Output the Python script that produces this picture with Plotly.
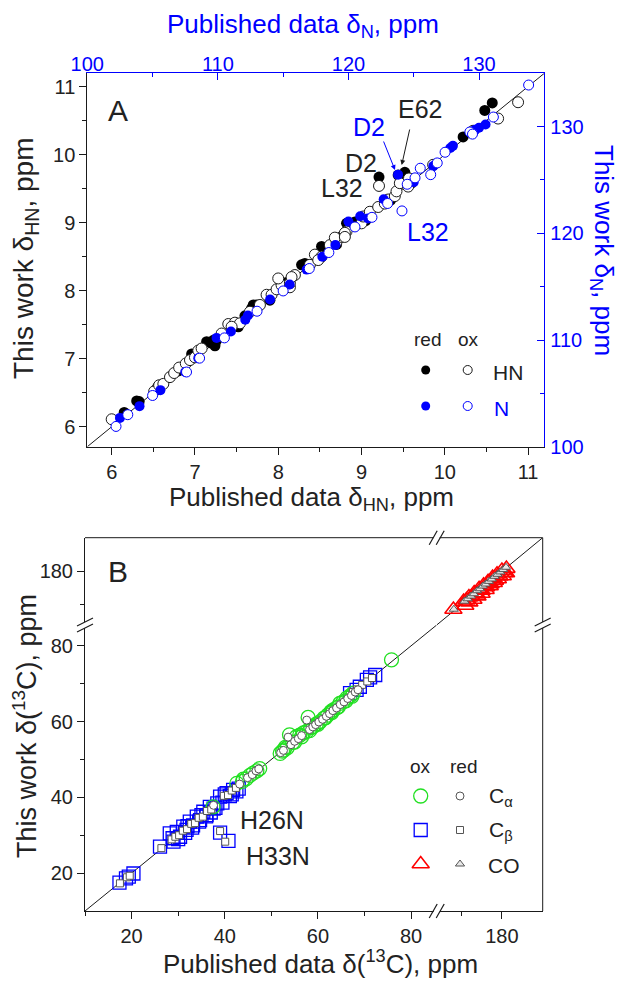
import plotly.graph_objects as go

# ---------------- data: panel A (HN and N shifts) ----------------
HN_RED_PUB = [6.15, 6.30, 6.33, 6.55, 6.80, 6.96, 7.14, 7.20, 7.24, 7.22, 7.26, 7.52, 7.60, 7.68, 7.70,
              7.74, 7.90, 8.10, 8.28, 8.32, 8.52, 8.56, 8.70, 8.82, 8.92, 9.05, 9.21, 9.35, 9.44, 9.52,
              9.60, 10.22, 10.48, 10.57]
HN_RED_THIS = [6.21, 6.38, 6.37, 6.58, 6.82, 7.07, 7.25, 7.23, 7.19, 7.27, 7.27, 7.47, 7.63, 7.74, 7.79,
               7.79, 7.86, 8.12, 8.38, 8.40, 8.65, 8.62, 8.68, 8.99, 9.01, 9.03, 9.67, 9.33, 9.70, 9.74,
               9.58, 10.26, 10.65, 10.76]
HN_OX_PUB = [6.00, 6.51, 6.57, 6.62, 6.70, 6.75, 6.81, 6.89, 6.94, 7.00, 7.04, 7.08, 7.32, 7.40, 7.48,
             7.54, 7.44, 7.66, 7.78, 7.86, 7.92, 7.98, 8.04, 8.14, 8.00, 8.14, 8.20, 8.16, 8.38, 8.44,
             8.52, 8.48, 8.62, 8.70, 8.76, 8.82, 8.68, 8.80, 8.80, 9.00, 9.02, 9.10, 9.20, 9.28, 9.32,
             9.40, 9.42, 9.46, 9.56, 9.57, 9.21, 9.86, 10.34, 10.64, 10.88]
HN_OX_THIS = [6.11, 6.52, 6.61, 6.63, 6.73, 6.79, 6.87, 6.93, 6.98, 7.02, 7.12, 7.15, 7.37, 7.51, 7.53,
              7.52, 7.47, 7.69, 7.79, 7.94, 7.94, 8.02, 8.08, 8.05, 8.18, 8.11, 8.23, 8.20, 8.38, 8.53,
              8.50, 8.45, 8.67, 8.72, 8.79, 8.87, 8.78, 8.85, 8.79, 8.99, 9.09, 9.16, 9.23, 9.28, 9.34,
              9.39, 9.46, 9.58, 9.53, 9.65, 9.54, 9.85, 10.35, 10.53, 10.77]
N_RED_PUB = [102.5, 104.0, 105.6, 107.5, 108.5, 109.9, 111.0, 112.1, 112.3, 114.0, 115.5, 116.8, 118.0,
             119.0, 120.0, 120.9, 121.5, 122.7, 123.8, 125.0, 126.5, 127.8, 128.0, 129.7, 130.0, 130.5]
N_RED_THIS = [102.7, 103.8, 105.3, 107.0, 108.3, 110.2, 110.8, 111.9, 112.3, 113.8, 115.2, 116.6, 117.8,
              118.9, 121.1, 121.6, 121.4, 123.2, 125.5, 124.8, 126.3, 128.0, 128.2, 129.7, 129.9, 130.2]
N_OX_PUB = [102.2, 103.1, 105.0, 107.6, 108.6, 110.5, 113.0, 115.0, 117.0, 118.5, 120.5, 121.8, 123.0,
            124.1, 124.5, 125.1, 125.5, 126.3, 126.8, 127.4, 129.3, 129.5, 131.1, 133.8]
N_OX_THIS = [101.9, 103.0, 104.8, 107.0, 108.3, 110.2, 112.7, 114.6, 116.7, 118.2, 120.6, 121.5, 122.8,
             122.1, 124.6, 125.2, 126.1, 125.5, 126.6, 127.6, 129.5, 129.3, 130.9, 133.9]

# ---------------- data: panel B (13C shifts) ----------------
CA_OX_PUB = [37.5, 42.6, 43.8, 44.0, 44.6, 45.4, 46.1, 46.9, 47.5, 51.9, 52.4, 52.7, 53.0, 53.4, 53.9,
             54.6, 55.0, 55.4, 56.1, 56.5, 56.9, 57.6, 57.9, 58.2, 58.5, 59.0, 59.7, 60.0, 60.5, 61.3,
             61.6, 62.1, 62.8, 63.0, 63.3, 64.1, 64.4, 64.7, 65.4, 66.0, 66.2, 66.9, 67.3, 67.6, 75.8]
CA_OX_THIS = [37.5, 43.7, 44.2, 44.8, 44.9, 45.8, 46.4, 47.0, 47.6, 51.6, 52.2, 52.5, 53.2, 53.1, 56.5,
              54.5, 54.6, 56.0, 56.4, 56.0, 57.0, 57.4, 61.1, 57.6, 58.4, 58.7, 59.4, 59.3, 60.0, 60.9,
              61.0, 61.7, 62.6, 62.4, 63.1, 63.7, 63.9, 64.8, 65.2, 65.5, 66.2, 66.8, 66.7, 67.5, 76.3]
CA_RED_PUB = [37.6, 43.2, 44.9, 45.9, 46.7, 47.3, 52.0, 52.6, 53.6, 54.2, 55.0, 55.8, 56.5, 57.6, 58.2,
              58.9, 59.5, 60.2, 61.0, 61.8, 62.5, 63.2, 64.0, 64.8, 65.6, 66.4, 67.2, 68.0, 68.6]
CA_RED_THIS = [37.9, 43.5, 45.2, 46.0, 47.0, 47.5, 51.8, 52.4, 55.9, 53.9, 54.8, 55.5, 56.3, 60.4, 57.9,
               58.6, 59.2, 59.9, 60.6, 61.4, 62.1, 62.9, 63.6, 64.5, 65.2, 66.1, 66.9, 67.8, 68.4]
CB_OX_PUB = [17.4, 18.8, 19.4, 20.4, 26.1, 28.2, 28.8, 29.0, 29.7, 30.0, 30.4, 31.1, 31.5, 31.8, 32.0,
             32.5, 33.0, 33.2, 34.0, 34.5, 34.7, 35.0, 35.4, 36.0, 36.1, 36.8, 37.0, 37.6, 38.0, 38.4,
             39.0, 39.0, 39.5, 40.0, 40.4, 40.8, 41.1, 41.5, 41.8, 42.5, 43.0, 66.9, 68.3, 69.0, 70.5,
             71.2, 72.3]
CB_OX_THIS = [17.5, 18.6, 19.1, 19.9, 27.0, 30.5, 29.2, 28.3, 30.9, 29.0, 29.6, 32.3, 30.6, 31.4, 32.4,
              33.6, 32.0, 32.6, 34.9, 33.6, 34.0, 35.3, 36.2, 35.0, 35.3, 37.5, 36.0, 37.0, 37.2, 38.4,
              30.7, 40.2, 38.6, 40.8, 41.1, 28.5, 40.3, 40.8, 42.0, 41.6, 42.3, 67.5, 68.4, 69.2, 71.0,
              71.7, 72.3]
CB_RED_PUB = [17.5, 19.0, 19.6, 26.4, 28.6, 29.4, 30.2, 31.0, 31.9, 32.8, 33.6, 34.4, 35.3, 36.2, 37.1,
              39.0, 40.1, 39.8, 40.7, 41.5, 42.4, 67.5, 68.4, 69.5, 70.6, 71.6]
CB_RED_THIS = [17.3, 18.9, 19.3, 26.6, 28.9, 29.6, 30.0, 31.2, 31.6, 33.0, 33.2, 34.6, 34.9, 36.4, 36.8,
               31.1, 28.3, 40.4, 40.6, 41.8, 42.5, 67.8, 68.5, 69.7, 70.6, 71.5]
CO_OX_PUB = [168.1, 170.6, 171.0, 171.3, 171.9, 172.0, 172.6, 173.0, 173.2, 173.8, 174.0, 174.4, 175.0,
             175.0, 175.5, 176.0, 176.1, 176.6, 177.0, 177.2, 177.7, 178.0, 178.3, 178.8, 179.0, 179.4,
             180.0, 180.2, 180.6, 181.0, 181.1]
CO_OX_THIS = [168.6, 171.0, 169.8, 171.4, 172.3, 170.8, 172.4, 171.6, 173.5, 173.2, 172.6, 174.8, 174.3,
              173.4, 175.8, 174.5, 175.3, 176.9, 175.6, 176.2, 178.1, 176.6, 177.3, 179.1, 177.7, 178.5,
              180.2, 178.6, 179.6, 179.5, 180.8]
CO_RED_PUB = [168.2, 170.8, 171.6, 172.4, 173.1, 173.9, 174.6, 175.3, 176.0, 176.8, 177.5, 178.2, 178.9,
              179.6, 180.3, 181.0]
CO_RED_THIS = [168.7, 171.1, 171.8, 172.6, 173.3, 174.2, 174.8, 175.6, 176.2, 177.0, 177.7, 178.5, 179.1,
               179.8, 180.5, 181.2]

# axis ranges / ticks
HN_RANGE = [5.707, 11.195]
N_RANGE = [100, 135]
C_LOW = [10, 85.5]
C_HIGH = [164, 190]

# ---------------- geometry (pixels) ----------------
W, H = 619, 983
A_L, A_R, A_T, A_B = 87.3, 544.3, 73.3, 446.7
B_L, B_BX, B_R = 85.0, 436.7, 542.7
B_T, B_BY, B_B = 537.7, 625.0, 911.0

BLACK = '#1a1a1a'
BLUE = '#0000ff'
GREEN = '#22e022'
RED = '#ff0000'
GRAY = '#555555'
FONT = 'Arial, Liberation Sans, sans-serif'


def dx(p):
    return p / W


def dy(p):
    return 1 - p / H


fig = go.Figure()

# ---- panel A ----
fig.add_trace(go.Scatter(x=HN_RANGE, y=HN_RANGE, mode='lines', line=dict(color=BLACK, width=1),
                         xaxis='x', yaxis='y', hoverinfo='skip'))
fig.add_trace(go.Scatter(x=N_RED_PUB, y=N_RED_THIS, mode='markers', xaxis='x2', yaxis='y2',
                         marker=dict(size=10, color=BLUE, line=dict(width=0))))
fig.add_trace(go.Scatter(x=N_OX_PUB, y=N_OX_THIS, mode='markers', xaxis='x2', yaxis='y2',
                         marker=dict(size=10, color='white', line=dict(width=1, color=BLUE))))
fig.add_trace(go.Scatter(x=HN_RED_PUB, y=HN_RED_THIS, mode='markers', xaxis='x', yaxis='y',
                         marker=dict(size=11, color='black', line=dict(width=0))))
fig.add_trace(go.Scatter(x=HN_OX_PUB, y=HN_OX_THIS, mode='markers', xaxis='x', yaxis='y',
                         marker=dict(size=11, color='white', line=dict(width=1, color=BLACK))))

# ---- panel B ----
fig.add_trace(go.Scatter(x=C_LOW, y=C_LOW, mode='lines', line=dict(color=BLACK, width=1),
                         xaxis='x3', yaxis='y3', hoverinfo='skip'))
fig.add_trace(go.Scatter(x=C_HIGH, y=C_HIGH, mode='lines', line=dict(color=BLACK, width=1),
                         xaxis='x4', yaxis='y4', hoverinfo='skip'))
fig.add_trace(go.Scatter(x=CB_OX_PUB, y=CB_OX_THIS, mode='markers', xaxis='x3', yaxis='y3',
                         marker=dict(symbol='square-open', size=13, color=BLUE, line=dict(width=1.3))))
fig.add_trace(go.Scatter(x=CA_OX_PUB, y=CA_OX_THIS, mode='markers', xaxis='x3', yaxis='y3',
                         marker=dict(symbol='circle-open', size=14, color=GREEN, line=dict(width=1.3))))
fig.add_trace(go.Scatter(x=CO_OX_PUB, y=CO_OX_THIS, mode='markers', xaxis='x4', yaxis='y4',
                         marker=dict(symbol='triangle-up-open', size=15, color=RED, line=dict(width=1.6))))
fig.add_trace(go.Scatter(x=CB_RED_PUB, y=CB_RED_THIS, mode='markers', xaxis='x3', yaxis='y3',
                         marker=dict(symbol='square', size=7, color='white', line=dict(width=1, color=GRAY))))
fig.add_trace(go.Scatter(x=CA_RED_PUB, y=CA_RED_THIS, mode='markers', xaxis='x3', yaxis='y3',
                         marker=dict(symbol='circle', size=8, color='white', line=dict(width=1, color=GRAY))))
fig.add_trace(go.Scatter(x=CO_RED_PUB, y=CO_RED_THIS, mode='markers', xaxis='x4', yaxis='y4',
                         marker=dict(symbol='triangle-up', size=8, color='#e8e8e8', line=dict(width=1, color=GRAY))))

# ---- hand-made legends (pixel overlay axes x5/y5) ----
leg = [
    (425.7, 370, dict(size=9, color='black')),
    (467.7, 370, dict(size=9, color='white', line=dict(width=1, color=BLACK))),
    (425.7, 406, dict(size=9, color=BLUE)),
    (467.7, 406, dict(size=9, color='white', line=dict(width=1, color=BLUE))),
    (420.7, 796, dict(symbol='circle-open', size=14, color=GREEN, line=dict(width=1.3))),
    (460.0, 796, dict(size=8, color='white', line=dict(width=1, color=GRAY))),
    (420.7, 830, dict(symbol='square-open', size=13, color=BLUE, line=dict(width=1.3))),
    (460.0, 830, dict(symbol='square', size=7, color='white', line=dict(width=1, color=GRAY))),
    (420.7, 864, dict(symbol='triangle-up-open', size=15, color=RED, line=dict(width=1.6))),
    (460.0, 864, dict(symbol='triangle-up', size=8, color='#e8e8e8', line=dict(width=1, color=GRAY))),
]
for lx, ly, mk in leg:
    fig.add_trace(go.Scatter(x=[lx], y=[ly], mode='markers', marker=mk, xaxis='x5', yaxis='y5',
                             hoverinfo='skip'))


def ax_common(color, ticks, tickfont_color):
    return dict(showgrid=False, zeroline=False, showline=True, linecolor=color, linewidth=1,
                automargin=False, ticks=ticks, ticklen=7, tickwidth=1, tickcolor=color,
                tickfont=dict(size=20, color=tickfont_color, family=FONT))


xa = ax_common(BLACK, 'outside', '#222')
xa.update(domain=[dx(A_L), dx(A_R)], range=HN_RANGE, anchor='y', dtick=1, tick0=0,
          minor=dict(dtick=0.5, ticks='outside', ticklen=4, tickcolor=BLACK))
ya = ax_common(BLACK, 'outside', '#222')
ya.update(domain=[dy(A_B), dy(A_T)], range=HN_RANGE, anchor='x', dtick=1, tick0=0,
          minor=dict(dtick=0.5, ticks='outside', ticklen=4, tickcolor=BLACK))
xa2 = ax_common(BLUE, 'inside', BLUE)
xa2.update(overlaying='x', side='top', anchor='y', range=N_RANGE, dtick=10, tick0=0,
           minor=dict(dtick=5, ticks='inside', ticklen=4, tickcolor=BLUE), ticklabelstandoff=-7)
ya2 = ax_common(BLUE, 'inside', BLUE)
ya2.update(overlaying='y', side='right', anchor='x', range=N_RANGE, dtick=10, tick0=0,
           minor=dict(dtick=5, ticks='inside', ticklen=4, tickcolor=BLUE), ticklabelstandoff=1)

xa3 = ax_common(BLACK, 'outside', '#222')
xa3.update(domain=[dx(B_L), dx(B_BX)], range=C_LOW, anchor='y3', tickmode='array',
           tickvals=[20, 40, 60, 80],
           minor=dict(tickvals=[10, 30, 50, 70], ticks='outside', ticklen=4, tickcolor=BLACK))
xa4 = ax_common(BLACK, 'outside', '#222')
xa4.update(domain=[dx(B_BX), dx(B_R)], range=C_HIGH, anchor='y3', tickmode='array', tickvals=[180],
           minor=dict(tickvals=[170], ticks='outside', ticklen=4, tickcolor=BLACK))
ya3 = ax_common(BLACK, 'outside', '#222')
ya3.update(domain=[dy(B_B), dy(B_BY)], range=C_LOW, anchor='x3', tickmode='array',
           tickvals=[20, 40, 60, 80],
           minor=dict(tickvals=[30, 50, 70], ticks='outside', ticklen=4, tickcolor=BLACK))
ya4 = ax_common(BLACK, 'outside', '#222')
ya4.update(domain=[dy(B_BY), dy(B_T)], range=C_HIGH, anchor='x3', tickmode='array', tickvals=[180],
           minor=dict(tickvals=[170], ticks='outside', ticklen=4, tickcolor=BLACK))

hidden = dict(visible=False, showgrid=False, zeroline=False, automargin=False)
xa5 = dict(hidden, domain=[0, 1], range=[0, W], anchor='y5')
ya5 = dict(hidden, domain=[0, 1], range=[H, 0], anchor='x5')

# ---- frame lines and axis breaks for panel B ----
shapes = [
    dict(type='line', xref='x5', yref='y5', x0=B_L, x1=B_R, y0=B_T, y1=B_T,
         line=dict(color=BLACK, width=1)),
    dict(type='line', xref='x5', yref='y5', x0=B_R, x1=B_R, y0=B_T, y1=B_B,
         line=dict(color=BLACK, width=1)),
]


def hbreak(xc, yc):
    out = [dict(type='rect', xref='x5', yref='y5', x0=xc - 3, x1=xc + 3, y0=yc - 2, y1=yc + 2,
                fillcolor='white', line=dict(width=0))]
    for off in (-3.5, 3.5):
        out.append(dict(type='line', xref='x5', yref='y5', x0=xc + off - 4, x1=xc + off + 4,
                        y0=yc + 7, y1=yc - 7, line=dict(color=BLACK, width=1.2)))
    return out


def vbreak(xc, yc):
    out = [dict(type='rect', xref='x5', yref='y5', x0=xc - 2, x1=xc + 2, y0=yc - 3, y1=yc + 3,
                fillcolor='white', line=dict(width=0))]
    for off in (-3, 3):
        out.append(dict(type='line', xref='x5', yref='y5', x0=xc - 8, x1=xc + 8,
                        y0=yc + off + 4, y1=yc + off - 4, line=dict(color=BLACK, width=1.2)))
    return out


shapes += hbreak(B_BX, B_T) + hbreak(B_BX, B_B) + vbreak(B_L, B_BY) + vbreak(B_R, B_BY)


def txt(x, y, s, size=25, color='#222', angle=0, xanchor='center'):
    return dict(xref='x5', yref='y5', x=x, y=y, text=s, showarrow=False, textangle=angle,
                xanchor=xanchor, yanchor='middle', font=dict(size=size, color=color, family=FONT))


ann = [
    txt(303, 25, 'Published data δ<sub>N</sub>, ppm', size=26, color=BLUE),
    txt(311, 498, 'Published data δ<sub>HN</sub>, ppm', size=26),
    txt(25, 258, 'This work δ<sub>HN</sub>, ppm', size=28, angle=-90),
    txt(603, 250, 'This work δ<sub>N</sub>, ppm', size=26, color=BLUE, angle=90),
    txt(118, 110, 'A', size=30),
    txt(420, 109, 'E62'),
    txt(369, 127, 'D2', color=BLUE),
    txt(361, 163, 'D2'),
    txt(342, 188, 'L32'),
    txt(428, 232, 'L32', color=BLUE),
    txt(427, 339, 'red', size=19),
    txt(468, 339, 'ox', size=19),
    txt(491, 372, 'HN', size=21, xanchor='left'),
    txt(492, 408, 'N', size=21, color=BLUE, xanchor='left'),
    txt(118, 571, 'B', size=30),
    txt(25, 726, 'This work δ(<sup>13</sup>C), ppm', size=27, angle=-90),
    txt(320, 962, 'Published data δ(<sup>13</sup>C), ppm', size=26),
    txt(272, 820, 'H26N'),
    txt(278, 856, 'H33N'),
    txt(420, 766, 'ox', size=19),
    txt(463, 766, 'red', size=19),
    txt(487, 797, 'C<sub>α</sub>', size=21, xanchor='left'),
    txt(487, 831, 'C<sub>β</sub>', size=21, xanchor='left'),
    txt(486, 865, 'CO', size=21, xanchor='left'),
    dict(xref='x5', yref='y5', axref='x5', ayref='y5', x=401.7, y=165, ax=410, ay=128, text='',
         showarrow=True, arrowhead=2, arrowsize=1, arrowwidth=1, arrowcolor=BLACK),
    dict(xref='x5', yref='y5', axref='x5', ayref='y5', x=395, y=170, ax=383, ay=140, text='',
         showarrow=True, arrowhead=2, arrowsize=1, arrowwidth=1, arrowcolor=BLUE),
]

fig.update_layout(
    width=W, height=H, margin=dict(l=0, r=0, t=0, b=0, autoexpand=False),
    paper_bgcolor='white', plot_bgcolor='rgba(0,0,0,0)', showlegend=False,
    font=dict(family=FONT, color='#222'),
    xaxis=xa, yaxis=ya, xaxis2=xa2, yaxis2=ya2,
    xaxis3=xa3, yaxis3=ya3, xaxis4=xa4, yaxis4=ya4,
    xaxis5=xa5, yaxis5=ya5,
    shapes=shapes, annotations=ann,
)

# the page body has a default 8px margin; drop it so the figure starts at the window corner
fig.write_html("out.html", config={'displayModeBar': False},
               post_script="document.body.style.margin='0';")
